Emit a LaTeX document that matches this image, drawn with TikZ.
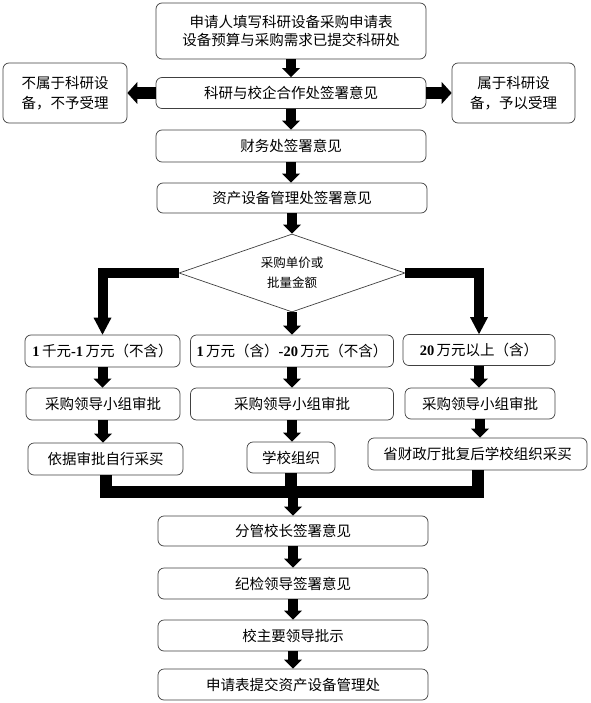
\documentclass[tikz,border=0pt]{standalone}
\usepackage{fontspec}
\setmainfont{Noto Sans CJK SC}
\newfontfamily\numf{Liberation Serif}
\newcommand{\bnum}[1]{{\numf\bfseries #1}}
\usetikzlibrary{arrows.meta,shapes.geometric}
\begin{document}
\begin{tikzpicture}[x=1pt,y=-1pt,
  box/.style={draw=black!75, line width=0.7pt, rounded corners=6pt, fill=white,
    inner sep=0pt, align=center, font=\fontsize{14.5}{18}\selectfont},
  arr/.style={line width=10pt, line join=miter, -{Triangle[width=18pt,length=9pt,line width=0pt]}},
  sidearr/.style={line width=12pt, -{Triangle[width=22pt,length=10pt,line width=0pt]}},
  brarr/.style={line width=10pt, line join=miter, -{Triangle[width=18pt,length=17pt,line width=0pt]}},
  busline/.style={line width=12pt, line join=miter}
]
\useasboundingbox (0,0) rectangle (590,703);

% main column top
\node[box, minimum width=270pt, minimum height=56pt, font=\fontsize{14.5}{17.5}\selectfont] (n1) at (291,31)
  {申请人填写科研设备采购申请表\\设备预算与采购需求已提交科研处};
\node[box, minimum width=270pt, minimum height=31pt] (n2) at (291,93) {科研与校企合作处签署意见};
\node[box, minimum width=124pt, minimum height=60pt, font=\fontsize{14.5}{20}\selectfont] (nl) at (65,93) {不属于科研设\\备，不予受理};
\node[box, minimum width=123pt, minimum height=60pt, font=\fontsize{14.5}{20}\selectfont] (nr) at (513.5,93) {属于科研设\\备，予以受理};
\node[box, minimum width=270pt, minimum height=32pt] (n3) at (291,146) {财务处签署意见};
\node[box, minimum width=270pt, minimum height=30pt] (n4) at (292,198) {资产设备管理处签署意见};

% decision
\node[diamond, draw=black!75, line width=0.7pt, aspect=2.9, inner sep=0pt,
  minimum width=226pt, minimum height=78pt, align=center,
  font=\fontsize{12.5}{20}\selectfont] (dia) at (292,273) {采购单价或\\批量金额};

% three branches
\node[box, minimum width=155pt, minimum height=32pt] (b1) at (102.5,351)
  {\bnum{1}\,千元\bnum{-1}\,万元（不含）};
\node[box, minimum width=203pt, minimum height=32pt] (b2) at (292,351)
  {\bnum{1}\,万元（含）\bnum{-20}\,万元（不含）};
\node[box, minimum width=152pt, minimum height=31pt] (b3) at (479,350)
  {\bnum{20}\,万元以上（含）};

\node[box, minimum width=154pt, minimum height=32pt] (c1) at (103,404) {采购领导小组审批};
\node[box, minimum width=203pt, minimum height=32pt] (c2) at (292,404) {采购领导小组审批};
\node[box, minimum width=150pt, minimum height=31pt] (c3) at (480,403.5) {采购领导小组审批};

\node[box, minimum width=155pt, minimum height=32pt] (e1) at (105.5,459) {依据审批自行采买};
\node[box, minimum width=88pt, minimum height=31pt] (e2) at (291,457.5) {学校组织};
\node[box, minimum width=219pt, minimum height=32pt] (e3) at (477.5,454) {省财政厅批复后学校组织采买};

% lower column
\node[box, minimum width=270pt, minimum height=30pt] (d1) at (293,531) {分管校长签署意见};
\node[box, minimum width=270pt, minimum height=31pt] (d2) at (293,583.5) {纪检领导签署意见};
\node[box, minimum width=270pt, minimum height=31pt] (d3) at (293,635.5) {校主要领导批示};
\node[box, minimum width=270pt, minimum height=31pt] (d4) at (293,684.5) {申请表提交资产设备管理处};

\coordinate (busy) at (0,492);

% connectors
\draw[arr] (n1.south) -- (n2.north);
\draw[sidearr] (n2.west) -- (nl.east);
\draw[sidearr] (n2.east) -- (nr.west);
\draw[arr] (n2.south) -- (n3.north);
\draw[arr] (n3.south) -- (n3.south |- n4.north);
\draw[arr] (n4.south) -- (dia.north);

\draw[brarr] (dia.west) -| (b1.north);
\draw[brarr] (dia.east) -| (b3.north);
\draw[arr] (dia.south) -- (b2.north);

\draw[arr] (b1.south) -- (b1.south |- c1.north);
\draw[arr] (b2.south) -- (c2.north);
\draw[arr] (b3.south) -- (b3.south |- c3.north);

\draw[arr] (c1.south) -- (c1.south |- e1.north);
\draw[arr] (c2.south) -- (c2.south |- e2.north);
\draw[arr] (c3.south) -- (c3.south |- e3.north);

\draw[busline] (e1.south) |- (e3.south |- busy) -- (e3.south);
\draw[busline] (e2.south) -- (e2.south |- busy);
\draw[arr] (d1.north |- busy) -- (d1.north);

\draw[arr] (d1.south) -- (d2.north);
\draw[arr] (d2.south) -- (d3.north);
\draw[arr] (d3.south) -- (d4.north);
\end{tikzpicture}
\end{document}
